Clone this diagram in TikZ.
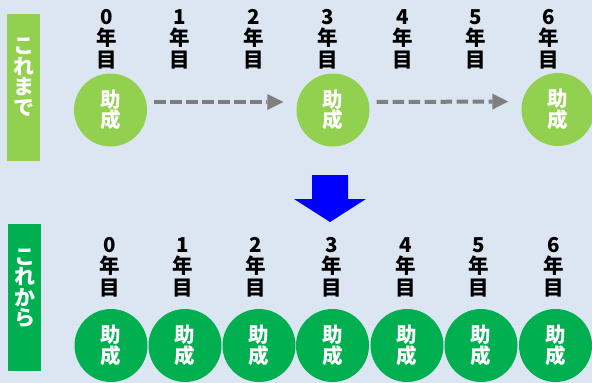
\documentclass[tikz,border=0pt]{standalone}
\usepackage{fontspec}
\newfontfamily\cjk{Noto Sans CJK JP}[BoldFont={Noto Sans CJK JP Black}]
\usetikzlibrary{arrows.meta}
\definecolor{bg}{HTML}{DCE6F2}
\definecolor{lgreen}{HTML}{92D050}
\definecolor{dgreen}{HTML}{00B050}
\definecolor{arrgray}{HTML}{7F7F7F}
\definecolor{bigblue}{HTML}{0000FF}
\begin{document}
\begin{tikzpicture}[x=1pt,y=-1pt,
  yr/.style={font=\cjk\bfseries\fontsize{20.5}{21.5}\selectfont, align=center, inner sep=0pt, text=black},
  subsidy/.style={circle, minimum size=73pt, inner sep=0pt, text=white, font=\cjk\bfseries\fontsize{20.5}{20.5}\selectfont, align=center},
  oldc/.style={subsidy, fill=lgreen},
  newc/.style={subsidy, fill=dgreen},
  bar/.style={minimum width=33pt, minimum height=147pt, inner sep=0pt},
  bartext/.style={inner sep=0pt, text=white, font=\cjk\bfseries\fontsize{21}{20.5}\selectfont, align=center},
  skip/.style={draw=arrgray, line width=4pt, dash pattern=on 11.5pt off 4.5pt, -{Triangle[length=16pt,width=16pt,line width=0pt]}, shorten <=7pt, shorten >=13pt}
]
\useasboundingbox (0,0) rectangle (592,383);
\fill[bg] (0,0) rectangle (592,383);

% left bars
\node[bar, fill=lgreen] (barold) at (23.5,87.5) {};
\node[bartext] (baroldtext) at (23.5,77) {こ\\れ\\ま\\で};
\node[bar, fill=dgreen] (barnew) at (24.5,297.5) {};
\node[bartext] (barnewtext) at (24.5,288) {こ\\れ\\か\\ら};

% top year labels
\foreach \i/\x in {0/107,1/180,2/254,3/328,4/403,5/476,6/549}
  \node[yr] (t\i) at (\x,39) {\i\\年\\目};

% top circles
\node[oldc] (c0) at (110.5,110) {助\\成};
\node[oldc] (c3) at (333,110) {助\\成};
\node[oldc] (c6) at (558,109.5) {助\\成};

\draw[skip] ([yshift=8pt]c0.east) -- ([yshift=8pt]c3.west);
\draw[skip] ([yshift=8pt]c3.east) -- ([yshift=8pt]c6.west);

% big blue arrow
\fill[bigblue] (312,175) -- (348,175) -- (348,199) -- (366,199) -- (330,222) -- (294,199) -- (312,199) -- cycle;

% bottom year labels
\foreach \i/\x in {0/110,1/183,2/256,3/332,4/406,5/479,6/554}
  \node[yr] (b\i) at (\x,267) {\i\\年\\目};

% bottom circles
\foreach \i/\x in {0/111,1/185,2/259,3/332.5,4/407,5/481,6/555.5}
  \node[newc] (n\i) at (\x,345.5) {助\\成};
\end{tikzpicture}
\end{document}
